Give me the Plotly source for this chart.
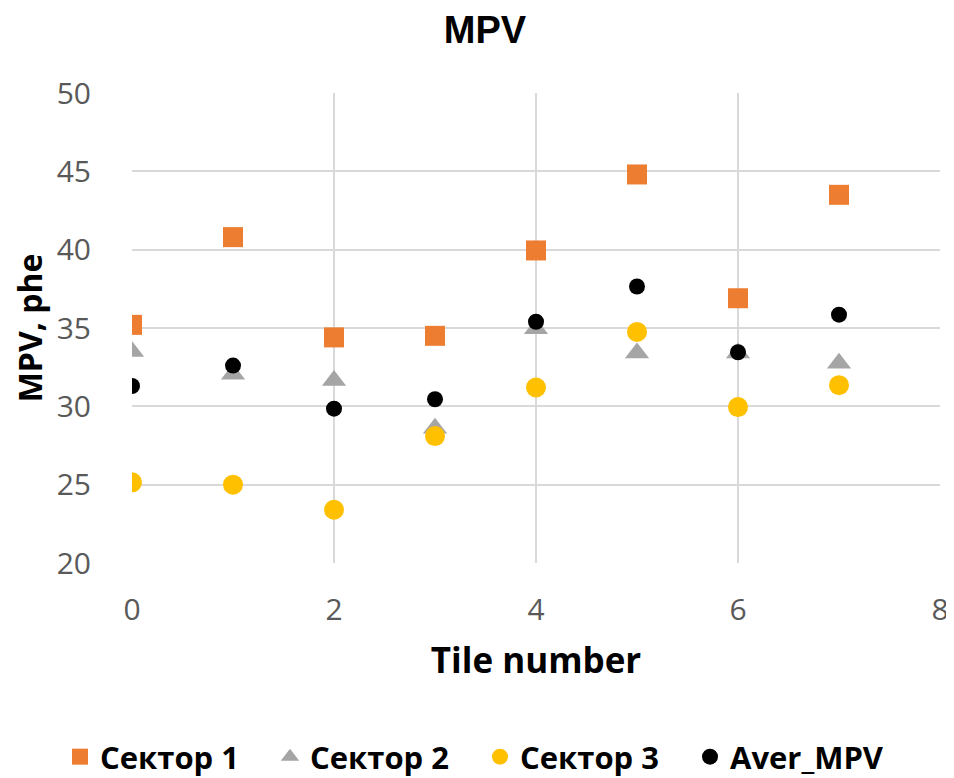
import plotly.graph_objects as go

tiles = [0, 1, 2, 3, 4, 5, 6, 7]
sektor1 = [35.2, 40.8, 34.4, 34.5, 39.95, 44.8, 36.9, 43.5]
sektor2 = [33.5, 32.05, 31.65, 28.6, 34.95, 33.4, 33.4, 32.75]
sektor3 = [25.15, 25.0, 23.4, 28.1, 31.2, 34.75, 29.95, 31.35]
aver_mpv = [31.3, 32.6, 29.85, 30.45, 35.4, 37.65, 33.45, 35.85]

FONT = "Open Sans"

fig = go.Figure()
fig.add_trace(go.Scatter(x=tiles, y=sektor1, mode="markers", name="<b>Сектор 1</b>",
                         marker=dict(symbol="square", size=20, color="#ED7D31")))
fig.add_trace(go.Scatter(x=tiles, y=sektor2, mode="markers", name="<b>Сектор 2</b>",
                         marker=dict(symbol="triangle-up", size=21, color="#A5A5A5")))
fig.add_trace(go.Scatter(x=tiles, y=sektor3, mode="markers", name="<b>Сектор 3</b>",
                         marker=dict(symbol="circle", size=20, color="#FFC000")))
fig.add_trace(go.Scatter(x=tiles, y=aver_mpv, mode="markers", name="<b>Aver_MPV</b>",
                         marker=dict(symbol="circle", size=16, color="#000000")))

# page body has an 8px margin, so figure coordinates = screen - 8
fig.update_layout(
    width=954, height=800,
    paper_bgcolor="white", plot_bgcolor="white",
    margin=dict(l=124, r=22, t=85, b=245),
    font=dict(family=FONT, color="#595959"),
    title=dict(text="<b>MPV</b>", x=0.5, xanchor="center", y=1 - 8.4 / 800, yanchor="top",
               pad=dict(t=0, b=0), automargin=False,
               font=dict(size=38, color="#000000", family="Liberation Sans")),
    xaxis=dict(range=[0, 8], dtick=2, tick0=0, showgrid=True, gridcolor="#D9D9D9",
               gridwidth=1.5, zeroline=False, showline=False, automargin=False,
               ticks="outside", ticklen=20, tickcolor="rgba(0,0,0,0)",
               tickfont=dict(size=30, color="#595959"),
               title=dict(text="<b>Tile number</b>", font=dict(size=35, color="#000000"),
                          standoff=20)),
    yaxis=dict(range=[20, 50], dtick=5, showgrid=True, gridcolor="#D9D9D9",
               gridwidth=1.5, zeroline=False, showline=False, automargin=False,
               ticks="outside", ticklen=34, tickcolor="rgba(0,0,0,0)",
               tickfont=dict(size=30, color="#595959"),
               title=dict(text="<b>MPV, phe</b>", font=dict(size=32, color="#000000"),
                          standoff=6)),
    legend=dict(orientation="h", x=-0.0891, xanchor="left", y=-0.4128, yanchor="middle",
                font=dict(size=31, color="#000000", family=FONT),
                itemwidth=30, tracegroupgap=0,
                entrywidth=165, entrywidthmode="pixels"),
    showlegend=True,
)

fig.write_html("out.html")
